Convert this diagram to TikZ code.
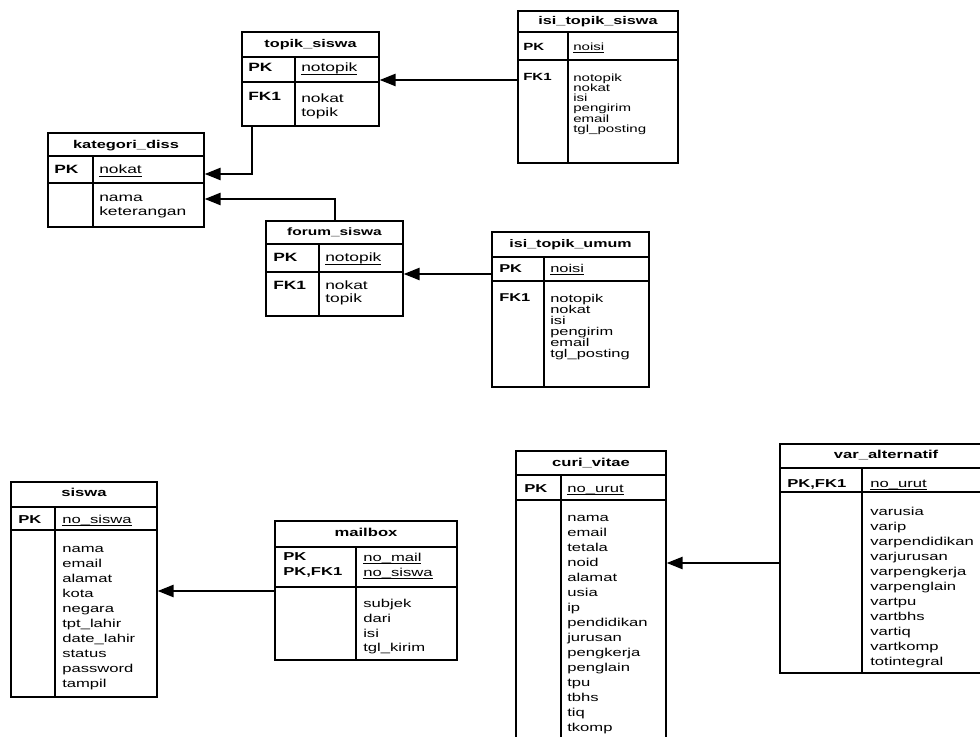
\documentclass[tikz,border=0pt]{standalone}
\usepackage{fontspec}
\setmainfont{Liberation Sans}[FakeStretch=1.45]
\usetikzlibrary{arrows.meta}
\newcommand\ulkey[1]{\setbox0\hbox{#1}\rlap{\rule[-0.2em]{\wd0}{0.06em}}\box0}
\tikzset{
  ebox/.style={draw=black, line width=0.9pt, inner sep=0pt, fill=none},
  eline/.style={draw=black, line width=0.9pt},
  rel/.style={draw=black, line width=1.8pt, -{Triangle[length=12pt,width=9pt]}},
  txt/.style={anchor=north west, inner sep=0pt, align=left, execute at begin node={\rule{0pt}{0.75em}}},
  ttl/.style={anchor=base, inner sep=0pt},
  tf/.style n args={2}{font={\fontsize{#1}{#2}\selectfont\lineskiplimit=-20pt\relax}},
  bf/.style={font={\fontsize{8.6pt}{#1}\selectfont\lineskiplimit=-20pt\relax}},
  bf/.default=11.25pt,
}
\def\erdparse#1#2,#3,#4,#5,#6,#7,#8\relax{%
  \node[ebox, minimum width={(#3-(#2))*0.75pt}, minimum height={(#7-(#4))*0.75pt}] (#1) at ({(#2+#3)/2},{(#4+#7)/2}) {};
  \draw[eline] (#2,#5) -- (#3,#5);
  \draw[eline] (#2,#6) -- (#3,#6);
  \draw[eline] (#8,#5) -- (#8,#7);
}
\newcommand\erdbox[2]{\erdparse{#1}#2\relax}
\begin{document}
\begin{tikzpicture}[x=0.75pt,y=-0.75pt]
\useasboundingbox (0,0) rectangle (980,737);
\clip (0,0) rectangle (980,737);
\fill[white] (0,0) rectangle (980,737);

% ---------- top group ----------
\erdbox{tp}{242,379,32,57,82,126,295}
\node[ttl, tf={8.4pt}{10pt}] (tp-t) at (310.5,47.3) {\bfseries topik\_siswa};
\node[txt, tf={9pt}{10.5pt}] (tp-pk) at (248,62.6) {\bfseries PK};
\node[txt, tf={9pt}{10.5pt}] (tp-pkf) at (301,62.6) {\ulkey{notopik}};
\node[txt, tf={9pt}{10.5pt}] (tp-fk) at (248,91.6) {\bfseries FK1};
\node[txt, tf={9pt}{10.5pt}] (tp-f) at (301,93.6) {nokat\\topik};

\erdbox{its}{518,678,11,32,60,163,568}
\node[ttl, tf={8.4pt}{10pt}] (its-t) at (598,24.5) {\bfseries isi\_topik\_siswa};
\node[txt, tf={7.8pt}{7.7pt}] (its-pk) at (523,42.3) {\bfseries PK};
\node[txt, tf={7.8pt}{7.7pt}] (its-pkf) at (573,42.3) {\ulkey{noisi}};
\node[txt, tf={7.8pt}{7.7pt}] (its-fk) at (523,72.3) {\bfseries FK1};
\node[txt, tf={7.8pt}{7.7pt}] (its-f) at (573,73.3) {notopik\\nokat\\isi\\pengirim\\email\\tgl\_posting};

\erdbox{kd}{48,204,133,156,183,227,93}
\node[ttl, tf={8.5pt}{10pt}] (kd-t) at (126,148.3) {\bfseries kategori\_diss};
\node[txt, tf={9pt}{10.5pt}] (kd-pk) at (54,164.6) {\bfseries PK};
\node[txt, tf={9pt}{10.5pt}] (kd-pkf) at (99,164.6) {\ulkey{nokat}};
\node[txt, tf={9pt}{10.5pt}] (kd-f) at (99,194.6) {nama\\keterangan};

\erdbox{fs}{266,403,221,244,272,316,319}
\node[ttl, tf={8pt}{10pt}] (fs-t) at (334.5,236) {\bfseries forum\_siswa};
\node[txt, tf={9pt}{9.75pt}] (fs-pk) at (273,252.6) {\bfseries PK};
\node[txt, tf={9pt}{9.75pt}] (fs-pkf) at (325,252.6) {\ulkey{notopik}};
\node[txt, tf={9pt}{9.75pt}] (fs-fk) at (273,280.6) {\bfseries FK1};
\node[txt, tf={9pt}{9.75pt}] (fs-f) at (325,280.6) {nokat\\topik};

\erdbox{itu}{492,649,232,257,281,387,544}
\node[ttl, tf={8.3pt}{10pt}] (itu-t) at (570.5,247.2) {\bfseries isi\_topik\_umum};
\node[txt, tf={8.5pt}{8.25pt}] (itu-pk) at (499,264) {\bfseries PK};
\node[txt, tf={8.5pt}{8.25pt}] (itu-pkf) at (550,264) {\ulkey{noisi}};
\node[txt, tf={8.5pt}{8.25pt}] (itu-fk) at (499,293) {\bfseries FK1};
\node[txt, tf={8.5pt}{8.25pt}] (itu-f) at (550,294) {notopik\\nokat\\isi\\pengirim\\email\\tgl\_posting};

% ---------- bottom group ----------
\erdbox{sw}{11,157,482,507,530,697,55}
\node[ttl, bf] (sw-t) at (84,496.5) {\bfseries siswa};
\node[txt, bf] (sw-pk) at (18,514.8) {\bfseries PK};
\node[txt, bf] (sw-pkf) at (62,514.8) {\ulkey{no\_siswa}};
\node[txt, bf] (sw-f) at (62,545.8) {nama\\email\\alamat\\kota\\negara\\tpt\_lahir\\date\_lahir\\status\\password\\tampil};

\erdbox{mb}{275,457,521,547,587,660,356}
\node[ttl, bf] (mb-t) at (366,536.5) {\bfseries mailbox};
\node[txt, bf] (mb-pk) at (283,552.8) {\bfseries PK\\\bfseries PK,FK1};
\node[txt, bf] (mb-pkf) at (363,552.8) {\ulkey{no\_mail}\\\ulkey{no\_siswa}};
\node[txt, bf=11pt] (mb-f) at (363,599.3) {subjek\\dari\\isi\\tgl\_kirim};

\erdbox{cv}{516,666,451,475,500,760,561}
\node[ttl, bf] (cv-t) at (591,466.5) {\bfseries curi\_vitae};
\node[txt, bf] (cv-pk) at (524,483.8) {\bfseries PK};
\node[txt, bf] (cv-pkf) at (567,483.8) {\ulkey{no\_urut}};
\node[txt, bf] (cv-f) at (567,515.3) {nama\\email\\tetala\\noid\\alamat\\usia\\ip\\pendidikan\\jurusan\\pengkerja\\penglain\\tpu\\tbhs\\tiq\\tkomp};

\erdbox{va}{780,992,444,468,492,673,862}
\node[ttl, bf] (va-t) at (886,458.5) {\bfseries var\_alternatif};
\node[txt, bf] (va-pk) at (787,478.8) {\bfseries PK,FK1};
\node[txt, bf] (va-pkf) at (870,478.8) {\ulkey{no\_urut}};
\node[txt, bf] (va-f) at (870,506.8) {varusia\\varip\\varpendidikan\\varjurusan\\varpengkerja\\varpenglain\\vartpu\\vartbhs\\vartiq\\vartkomp\\totintegral};

% ---------- connectors ----------
\coordinate (y80) at (0,80);
\coordinate (y174) at (0,174);
\coordinate (y199) at (0,199);
\coordinate (y274) at (0,274);
\coordinate (y591) at (0,591);
\coordinate (y563) at (0,563);
\coordinate (x252) at (252,0);
\coordinate (x335) at (335,0);

\draw[rel] (its.west |- y80) -- (tp.east |- y80);
\draw[rel] (tp.south -| x252) |- (kd.east |- y174);
\draw[rel] (fs.north -| x335) |- (kd.east |- y199);
\draw[rel] (itu.west |- y274) -- (fs.east |- y274);
\draw[rel] (mb.west |- y591) -- (sw.east |- y591);
\draw[rel] (va.west |- y563) -- (cv.east |- y563);
\end{tikzpicture}
\end{document}
